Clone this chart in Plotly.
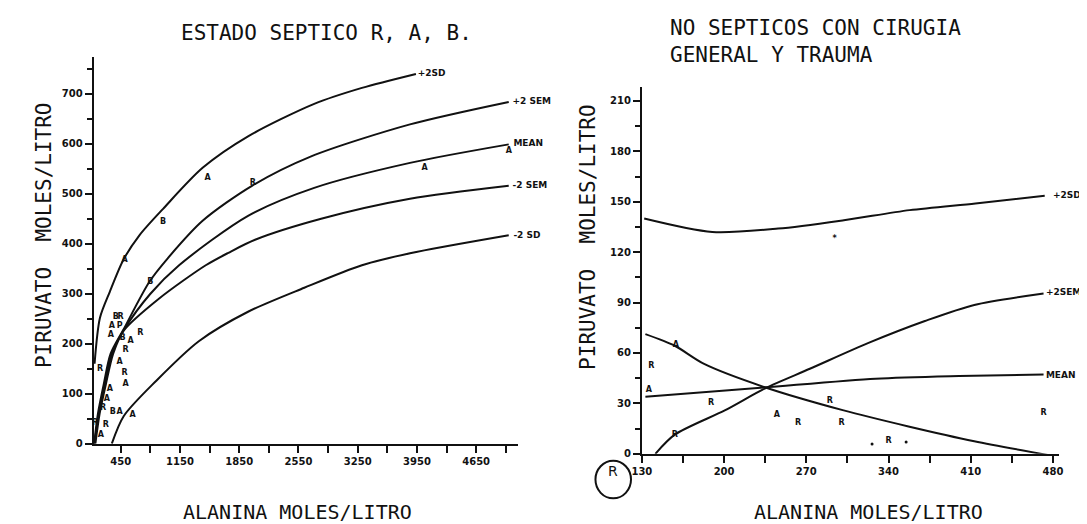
import plotly.graph_objects as go

W, H = 1087, 524

# ---------------- LEFT PANEL DATA (ESTADO SEPTICO R, A, B.) ----------------
left_title = "ESTADO SEPTICO R, A, B."
left_xticks = [450, 1150, 1850, 2550, 3250, 3950, 4650]
left_yticks = [0, 100, 200, 300, 400, 500, 600, 700]

l_p2sd_x = [140, 204, 320, 484, 670, 950, 1417, 1954, 2736, 3300, 3938]
l_p2sd_y = [160, 252, 304, 369, 417, 470, 552, 615, 680, 712, 740]

l_p2sem_x = [135, 180, 250, 330, 484, 788, 1000, 1417, 2000, 2700, 3868, 5035]
l_p2sem_y = [0, 60, 120, 180, 229, 324, 370, 446, 516, 575, 639, 684]

l_mean_x = [140, 190, 262, 345, 484, 800, 1139, 1954, 2736, 3868, 5035]
l_mean_y = [0, 60, 120, 180, 227, 300, 357, 456, 512, 562, 599]

l_m2sem_x = [150, 200, 275, 360, 484, 900, 1454, 1722, 2037, 2818, 3868, 5035]
l_m2sem_y = [0, 60, 120, 180, 226, 290, 357, 382, 408, 450, 490, 516]

l_m2sd_x = [344, 484, 870, 1372, 1954, 2619, 3300, 3868, 5035]
l_m2sd_y = [0, 55, 126, 205, 264, 312, 357, 381, 417]

l_pts_x = [495, 799, 390, 449, 344, 437, 332, 472, 565, 682, 507, 437, 204, 495,
           507, 320, 285, 240, 355, 437, 589, 274, 145, 215, 1477, 950, 2012,
           4041, 5035]
l_pts_y = [367, 324, 253, 253, 235, 235, 217, 211, 205, 221, 187, 164, 150, 142,
           120, 110, 89, 72, 63, 63, 57, 37, 41, 17, 532, 443, 522,
           552, 586]
l_pts_t = ["A", "B", "B", "R", "A", "P", "A", "B", "A", "R", "R", "A", "R", "R",
           "A", "A", "A", "R", "B", "A", "A", "R", "R", "A", "A", "B", "R",
           "A", "A"]

l_lab_x = [3960, 5080, 5090, 5080, 5090]
l_lab_y = [740, 684, 601, 516, 417]
l_lab_t = ["+2SD", "+2 SEM", "MEAN", "-2 SEM", "-2 SD"]

# ---------------- RIGHT PANEL DATA (NO SEPTICOS ...) ----------------
right_title = "NO SEPTICOS CON CIRUGIA<br>GENERAL Y TRAUMA"
right_xticks = [130, 200, 270, 340, 410, 480]
right_yticks = [0, 30, 60, 90, 120, 150, 180, 210]

r_p2sd_x = [132, 190, 246, 302, 358, 414, 473]
r_p2sd_y = [140, 132, 134, 139, 145, 149, 153.5]

r_p2sem_x = [141.5, 158, 201, 235, 273, 323, 371, 413, 472]
r_p2sem_y = [0, 11.4, 26, 39, 50.6, 66, 79, 88.6, 95.4]

r_mean_x = [133, 234, 329, 400, 472]
r_mean_y = [33.9, 39.5, 44.7, 46.3, 47.2]

r_m2sem_x = [133, 158, 183, 234, 301, 357, 413, 478]
r_m2sem_y = [71.2, 64.3, 53.5, 39.8, 26, 16.3, 7.5, -1]

r_pts_x = [138, 136, 159, 189, 158, 245, 263, 290, 300, 340, 472, 294]
r_pts_y = [52.5, 37.8, 64.9, 30, 11.4, 23.1, 18.1, 31.7, 18.4, 7.6, 24.5, 128]
r_pts_t = ["R", "A", "A", "R", "R", "A", "R", "R", "R", "R", "R", "*"]

r_dot_x = [326, 355]
r_dot_y = [5.8, 7]

r_lab_x = [480, 474, 474, 476]
r_lab_y = [153.5, 96, 46.5, -2]
r_lab_t = ["+2SD", "+2SEM", "MEAN", "-2SEM"]

# ---------------- FIGURE ----------------
MONO = "DejaVu Sans Mono"
SANS = "DejaVu Sans"
BLACK = "#111111"

fig = go.Figure()

def curve(x, y, xa, ya):
    fig.add_trace(go.Scatter(x=x, y=y, mode="lines", xaxis=xa, yaxis=ya,
                             line=dict(color=BLACK, width=2, shape="spline", smoothing=0.8),
                             cliponaxis=False, hoverinfo="skip"))

for cx, cy in [(l_p2sd_x, l_p2sd_y), (l_p2sem_x, l_p2sem_y), (l_mean_x, l_mean_y),
               (l_m2sem_x, l_m2sem_y), (l_m2sd_x, l_m2sd_y)]:
    curve(cx, cy, "x", "y")
for cx, cy in [(r_p2sd_x, r_p2sd_y), (r_p2sem_x, r_p2sem_y), (r_mean_x, r_mean_y),
               (r_m2sem_x, r_m2sem_y)]:
    curve(cx, cy, "x2", "y2")

ptfont = dict(family=SANS, size=8, color=BLACK, weight="bold")
fig.add_trace(go.Scatter(x=l_pts_x, y=l_pts_y, text=l_pts_t, mode="text", xaxis="x", yaxis="y",
                         textfont=ptfont, cliponaxis=False))
fig.add_trace(go.Scatter(x=r_pts_x, y=r_pts_y, text=r_pts_t, mode="text", xaxis="x2", yaxis="y2",
                         textfont=ptfont, cliponaxis=False))
fig.add_trace(go.Scatter(x=r_dot_x, y=r_dot_y, mode="markers", xaxis="x2", yaxis="y2",
                         marker=dict(color=BLACK, size=3), cliponaxis=False))

labfont = dict(family=SANS, size=9, color=BLACK, weight="bold")
fig.add_trace(go.Scatter(x=l_lab_x, y=l_lab_y, text=l_lab_t, mode="text", xaxis="x", yaxis="y",
                         textposition="middle right", textfont=labfont, cliponaxis=False))
fig.add_trace(go.Scatter(x=r_lab_x, y=r_lab_y, text=r_lab_t, mode="text", xaxis="x2", yaxis="y2",
                         textposition="middle right", textfont=labfont, cliponaxis=False))

tickfont = dict(family=SANS, size=10, color=BLACK, weight="bold")
common = dict(showline=True, linecolor=BLACK, linewidth=2, ticks="outside", ticklen=7,
              tickwidth=2, tickcolor=BLACK, showgrid=False, zeroline=False, tickfont=tickfont)

fig.update_layout(
    width=W, height=H, margin=dict(l=0, r=0, t=0, b=0),
    paper_bgcolor="white", plot_bgcolor="white", showlegend=False,
    xaxis=dict(domain=[76.7 / W, 507 / W], range=[130, 5150], anchor="y",
               tickvals=left_xticks, ticktext=[str(v) for v in left_xticks],
               minor=dict(tickvals=[800, 1500, 2200, 2900, 3600, 4300, 5000],
                          ticks="outside", ticklen=7, tickwidth=2, tickcolor=BLACK),
               **common),
    yaxis=dict(domain=[1 - 440.7 / H, 1 - 50 / H], range=[0, 773], anchor="x",
               tickvals=left_yticks, ticktext=[str(v) for v in left_yticks],
               minor=dict(tickvals=[50, 150, 250, 350, 450, 550, 650, 750],
                          ticks="outside", ticklen=5, tickwidth=2, tickcolor=BLACK),
               **common),
    xaxis2=dict(domain=[632 / W, 1055 / W], range=[130, 485.5], anchor="y2",
                tickvals=right_xticks, ticktext=[str(v) for v in right_xticks],
                minor=dict(tickvals=[165, 235, 305, 375, 445],
                           ticks="outside", ticklen=7, tickwidth=2, tickcolor=BLACK),
                **common),
    yaxis2=dict(domain=[1 - 451 / H, 1 - 80 / H], range=[0, 218.2], anchor="x2",
                tickvals=right_yticks, ticktext=[str(v) for v in right_yticks],
                minor=dict(tickvals=[15, 45, 75, 105, 135, 165, 195],
                           ticks="outside", ticklen=5, tickwidth=2, tickcolor=BLACK),
                **common),
)

def ann(text, px, py, size, xanchor="center", yanchor="middle", angle=0, align="center"):
    fig.add_annotation(text=text, x=px / W, y=1 - py / H, xref="paper", yref="paper",
                       showarrow=False, xanchor=xanchor, yanchor=yanchor, textangle=angle,
                       align=align, font=dict(family=MONO, size=size, color=BLACK))

ann(left_title, 313, 25, 21)
ann(right_title, 658, 34, 21, xanchor="left", align="left")
ann("ALANINA MOLES/LITRO", 283, 510, 20)
ann("ALANINA MOLES/LITRO", 862, 510, 20)
ann("PIRUVATO  MOLES/LITRO", 27, 230, 21, angle=-90)
ann("PIRUVATO  MOLES/LITRO", 578, 232, 21, angle=-90)

# circled R at the lower left of the right panel
fig.add_shape(type="circle", xref="paper", yref="paper",
              x0=585 / W, x1=621 / W, y0=1 - 496 / H, y1=1 - 458 / H,
              line=dict(color=BLACK, width=2))
fig.add_annotation(text="R", x=603 / W, y=1 - 478 / H, xref="paper", yref="paper",
                   showarrow=False, font=dict(family=SANS, size=14, color=BLACK))

fig.write_html("out.html")
